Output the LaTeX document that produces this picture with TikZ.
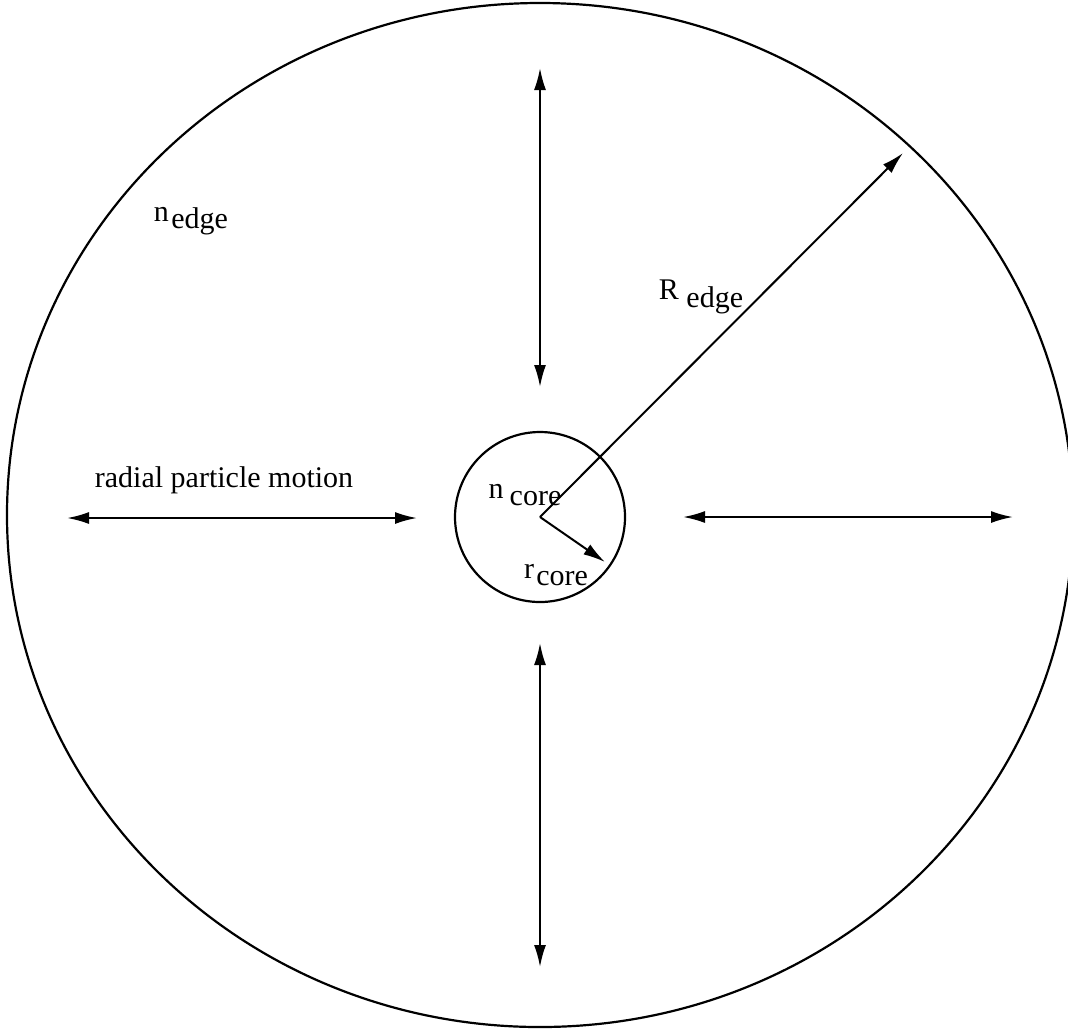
\documentclass[tikz,border=0pt]{standalone}
\usepackage{fontspec}
\setmainfont{Liberation Serif}
\usetikzlibrary{arrows.meta}

\newcommand{\lbl}[3][0.08em]{#2\hspace{#1}\raisebox{-0.55ex}{#3}}

\begin{document}
\begin{tikzpicture}[
  x=0.5pt, y=-0.5pt,
  font=\fontsize{15}{18}\selectfont,
  rim/.style={line width=1.1pt},
  dbl/.style={line width=1pt, {Latex[length=11pt,width=6pt]}-{Latex[length=11pt,width=6pt]}},
  rad/.style={line width=1pt, -{Latex[length=11pt,width=6pt]}},
  lab/.style={inner sep=0pt, anchor=center}
]
\useasboundingbox (0,0) rectangle (1068,1029);

% plasma edge and core
\coordinate (c) at (540,517);
\draw[rim] (540,515) ellipse [x radius=266.5pt, y radius=256pt];
\draw[rim] (c) circle [radius=42.5pt];

% radii
\coordinate (redge) at (903,153);
\coordinate (rcore) at (605,562);
\draw[rad] (c) -- (redge);
\draw[rad] (c) -- (rcore);

% radial particle motion
\coordinate (l1) at (67,518);
\coordinate (l2) at (417,518);
\coordinate (r1) at (683,517);
\coordinate (r2) at (1013,517);
\coordinate (t1) at (540,68);
\coordinate (t2) at (540,387);
\coordinate (b1) at (540,643);
\coordinate (b2) at (540,967);
\draw[dbl] (l1) -- (l2);
\draw[dbl] (r1) -- (r2);
\draw[dbl] (t1) -- (t2);
\draw[dbl] (b1) -- (b2);

% labels
\node[lab] (nedge) at (191,221) {\lbl{n}{edge}};
\node[lab] (Redge) at (701,297) {\lbl[0.25em]{R}{edge}};
\node[lab] (ncore) at (525,495) {\lbl[0.2em]{n}{core}};
\node[lab] (rcorel) at (556,575) {\lbl{r}{core}};
\node[lab] (motion) at (224,480) {radial particle motion};
\end{tikzpicture}
\end{document}
